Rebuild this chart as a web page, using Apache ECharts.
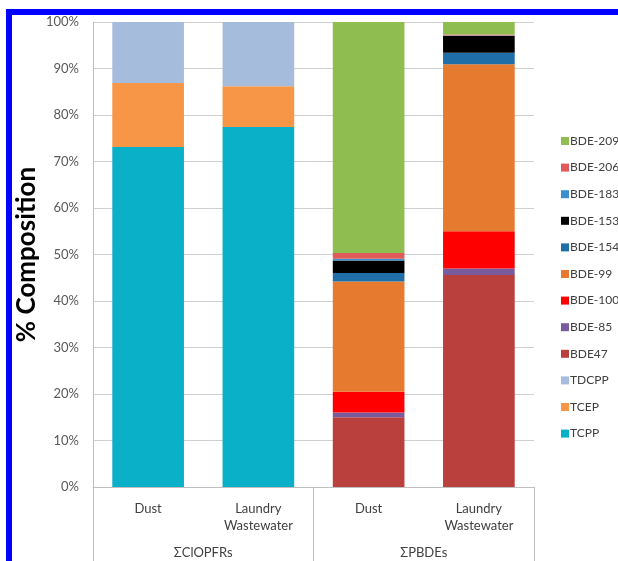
<!DOCTYPE html>
<html>
<head>
<meta charset="utf-8">
<script src="https://cdn.jsdelivr.net/npm/echarts@6/dist/echarts.min.js"></script>
<style>
html,body{margin:0;padding:0;background:#fff;}
#chart{width:618px;height:561px;}
</style>
</head>
<body>
<div id="chart"></div>
<script>
// Data (percent composition)
var categories = ['Dust', 'Laundry\nWastewater', 'Dust', 'Laundry\nWastewater'];
var groups = ['\u03A3ClOPFRs', '\u03A3PBDEs'];
var yTicks = [0, 10, 20, 30, 40, 50, 60, 70, 80, 90, 100];

var TCPP    = [73.1, 77.4, 0, 0];
var TCEP    = [13.8, 8.8, 0, 0];
var TDCPP   = [13.1, 13.8, 0, 0];
var BDE47   = [0, 0, 15.0, 45.6];
var BDE85   = [0, 0, 1.0, 1.4];
var BDE100  = [0, 0, 4.5, 8.0];
var BDE99   = [0, 0, 23.7, 35.9];
var BDE154  = [0, 0, 1.8, 2.5];
var BDE153  = [0, 0, 2.7, 3.6];
var BDE183  = [0, 0, 0.4, 0.1];
var BDE206  = [0, 0, 1.2, 0.2];
var BDE209  = [0, 0, 49.7, 2.8];

var seriesNames = ['TCPP','TCEP','TDCPP','BDE47','BDE-85','BDE-100','BDE-99','BDE-154','BDE-153','BDE-183','BDE-206','BDE-209'];
var seriesData  = [TCPP, TCEP, TDCPP, BDE47, BDE85, BDE100, BDE99, BDE154, BDE153, BDE183, BDE206, BDE209];
var seriesColors = ['#0aafc8','#f79646','#a6bcdc','#b9403c','#7a5c9e','#ff0000','#e67a2e','#1f6ea8','#000000','#3d8fd0','#e05a5a','#8fbd4f'];

var FONT = 'Lato, "Open Sans", sans-serif';

var series = seriesNames.map(function (n, i) {
  return {
    name: n,
    type: 'bar',
    stack: 'total',
    xAxisIndex: 0,
    barWidth: '65%',
    itemStyle: { color: seriesColors[i] },
    data: seriesData[i]
  };
});

var chart = echarts.init(document.getElementById('chart'), null, { renderer: 'canvas' });
chart.setOption({
  backgroundColor: '#ffffff',
  animation: false,
  textStyle: { fontFamily: FONT },
  grid: { left: 93, right: 84, top: 22, bottom: 74, containLabel: false },
  legend: {
    orient: 'vertical',
    left: 556,
    top: 130,
    itemWidth: 8,
    itemHeight: 8,
    itemGap: 14.6,
    icon: 'rect',
    data: seriesNames.slice().reverse(),
    textStyle: { fontFamily: FONT, fontSize: 12, color: '#404040', padding: [0, 0, 0, -4] }
  },
  xAxis: [
    {
      type: 'category',
      data: categories,
      position: 'bottom',
      axisLine: { show: true, lineStyle: { color: '#bfbfbf', width: 1 } },
      axisTick: { show: false },
      axisLabel: { interval: 0, margin: 13, fontFamily: FONT, fontSize: 13, color: '#404040', lineHeight: 17 }
    },
    {
      type: 'category',
      data: groups,
      position: 'bottom',
      axisLine: { show: false },
      axisTick: { show: true, length: 80, interval: 0, alignWithLabel: false, lineStyle: { color: '#bfbfbf', width: 1 } },
      axisLabel: { interval: 0, margin: 59, fontFamily: FONT, fontSize: 13, color: '#404040' },
      splitLine: { show: false }
    }
  ],
  yAxis: {
    type: 'value',
    min: 0,
    max: 100,
    interval: 10,
    name: '% Composition',
    nameLocation: 'middle',
    nameRotate: 90,
    nameGap: 53,
    nameMoveOverlap: false,
    nameTextStyle: { fontFamily: FONT, fontSize: 26, fontWeight: 'bold', color: '#000000' },
    axisLine: { show: true, lineStyle: { color: '#bfbfbf', width: 1 } },
    axisTick: { show: false },
    splitLine: { show: true, lineStyle: { color: '#d0d0d0', width: 1 } },
    axisLabel: { margin: 14, fontFamily: FONT, fontSize: 13, color: '#595959', formatter: '{value}%' }
  },
  graphic: [
    { type: 'rect', shape: { x: 6, y: 9, width: 612, height: 6 }, style: { fill: '#0000ff' }, z: 100 },
    { type: 'rect', shape: { x: 6, y: 9, width: 6, height: 552 }, style: { fill: '#0000ff' }, z: 100 }
  ],
  series: series
});
</script>
</body>
</html>
